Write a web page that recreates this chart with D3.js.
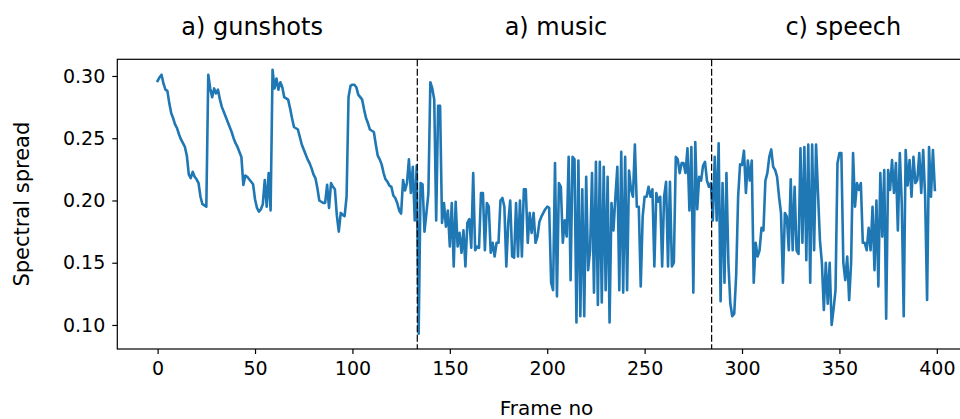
<!DOCTYPE html>
<html><head><meta charset="utf-8">
<script src="https://cdn.jsdelivr.net/npm/d3@7"></script>
<style>
html,body{margin:0;padding:0;background:#fff;}
svg{display:block;}
text{font-family:"DejaVu Sans",sans-serif;fill:#000;}
</style></head>
<body>
<svg id="chart" width="960" height="419"></svg>
<script>
const gunshots = [0.296,0.299,0.301,0.294,0.289,0.288,0.278,0.270,0.266,0.261,0.258,0.253,0.249,0.246,0.243,0.236,0.221,0.218,0.223,0.219,
0.217,0.214,0.203,0.197,0.196,0.195,0.301,0.290,0.283,0.290,0.286,0.289,0.281,0.275,0.271,0.267,0.263,0.259,0.255,0.250,
0.246,0.243,0.239,0.235,0.2125,0.220,0.219,0.217,0.215,0.213,0.201,0.194,0.191,0.193,0.197,0.2165,0.195,0.222,0.192,0.305,
0.290,0.298,0.289,0.295,0.291,0.283,0.282,0.281,0.274,0.266,0.259,0.258,0.257,0.251,0.245,0.241,0.237,0.233,0.230,0.226,
0.221,0.218,0.210,0.200,0.199,0.198,0.198,0.2125,0.194,0.214,0.211,0.209,0.188,0.175,0.190,0.1885,0.1875,0.203,0.283,0.292,
0.293,0.293,0.291,0.285,0.283,0.281,0.273,0.266,0.262,0.257,0.256,0.255,0.245,0.236,0.233,0.229,0.222,0.217,0.215,0.212,
0.211,0.204,0.202,0.198,0.192,0.1895,0.2165,0.208,0.214,0.233,0.206,0.227,0.184];
const music = [0.228,0.093,0.214,0.213,0.175,0.190,0.206,0.295,0.290,0.281,0.184,0.276,0.276,0.182,0.198,0.179,0.192,0.163,0.198,0.147,
0.199,0.163,0.174,0.158,0.176,0.147,0.182,0.185,0.162,0.222,0.160,0.163,0.162,0.206,0.206,0.160,0.198,0.195,0.158,0.166,
0.155,0.166,0.166,0.200,0.202,0.195,0.147,0.182,0.200,0.155,0.154,0.198,0.155,0.200,0.155,0.209,0.209,0.166,0.190,0.174,
0.190,0.166,0.171,0.183,0.187,0.190,0.193,0.195,0.194,0.134,0.128,0.230,0.123,0.214,0.211,0.166,0.184,0.171,0.235,0.136,
0.235,0.233,0.102,0.232,0.107,0.209,0.107,0.219,0.144,0.160,0.222,0.126,0.231,0.116,0.231,0.118,0.227,0.128,0.219,0.102,
0.198,0.176,0.203,0.227,0.128,0.239,0.126,0.235,0.128,0.224,0.209,0.203,0.245,0.195,0.195,0.131,0.187,0.203,0.203,0.211,
0.203,0.209,0.147,0.206,0.199,0.203,0.147,0.203,0.215,0.147,0.215,0.147,0.150,0.235,0.233,0.222,0.230,0.230,0.222,0.242,
0.192,0.243,0.126,0.247,0.193,0.219,0.216,0.228,0.231,0.216,0.211];
const speech = [0.214,0.184,0.235,0.184,0.246,0.119,0.214,0.134,0.222,0.150,0.117,0.107,0.109,0.140,0.203,0.229,0.2285,0.240,0.206,0.232,
0.216,0.232,0.134,0.166,0.155,0.160,0.178,0.176,0.216,0.222,0.235,0.241,0.227,0.2245,0.219,0.203,0.190,0.134,0.190,0.187,
0.160,0.217,0.160,0.211,0.160,0.157,0.242,0.166,0.243,0.152,0.245,0.134,0.245,0.160,0.245,0.206,0.168,0.150,0.112,0.150,
0.117,0.150,0.100,0.113,0.128,0.230,0.238,0.238,0.150,0.136,0.155,0.120,0.150,0.238,0.195,0.214,0.2085,0.214,0.166,0.166,
0.160,0.178,0.160,0.195,0.144,0.200,0.131,0.222,0.171,0.2245,0.105,0.2245,0.2085,0.2325,0.206,0.230,0.176,0.238,0.198,0.107,
0.2406,0.212,0.2325,0.203,0.235,0.214,0.2165,0.238,0.206,0.2406,0.203,0.120,0.243,0.203,0.2406,0.2085];
const segmentBoundaries = [133.3, 284.4];
const segmentTitles = ["a) gunshots", "a) music", "c) speech"];
const titleCenters = [48.5, 204.5, 352];
const xTicks = [0, 50, 100, 150, 200, 250, 300, 350, 400];
const yTicks = [0.10, 0.15, 0.20, 0.25, 0.30];
const xLabel = "Frame no";
const yLabel = "Spectral spread";

(function draw() {
const values = gunshots.concat(music, speech);
const data = values.map((v, i) => ({frame: i, value: v}));

const svg = d3.select("#chart");
const mLeft = 117.3, mTop = 59.3, mBottom = 349;
const pxPerFrame = 1.948;
const x = d3.scaleLinear().domain([-20.7, 420]).range([mLeft, mLeft + 440.7 * pxPerFrame]);
const y = d3.scaleLinear().domain([0.0807, 0.3134]).range([mBottom, mTop]);
const mRight = x.range()[1];

const line = d3.line().x(d => x(d.frame)).y(d => y(d.value));
svg.append("path").datum(data)
  .attr("fill", "none").attr("stroke", "#1f77b4").attr("stroke-width", 2.6)
  .attr("stroke-linejoin", "round").attr("stroke-linecap", "square")
  .attr("d", line);

svg.selectAll("line.bound").data(segmentBoundaries).enter().append("line")
  .attr("class", "bound")
  .attr("x1", d => x(d)).attr("x2", d => x(d))
  .attr("y1", mTop).attr("y2", mBottom)
  .attr("stroke", "#000").attr("stroke-width", 1.2).attr("stroke-dasharray", "7,2.5");

svg.append("rect").attr("x", mLeft).attr("y", mTop).attr("width", mRight - mLeft).attr("height", mBottom - mTop)
  .attr("fill", "none").attr("stroke", "#000").attr("stroke-width", 1.2);

const xAxis = d3.axisBottom(x).tickValues(xTicks).tickSize(5).tickPadding(8).tickFormat(d3.format("d"));
const gx = svg.append("g").attr("transform", `translate(0,${mBottom})`).call(xAxis);
const yAxis = d3.axisLeft(y).tickValues(yTicks).tickSize(5).tickPadding(7).tickFormat(d3.format(".2f"));
const gy = svg.append("g").attr("transform", `translate(${mLeft},0)`).call(yAxis);
[gx, gy].forEach(g => {
  g.select(".domain").remove();
  g.selectAll(".tick line").attr("stroke", "#000").attr("stroke-width", 1.2);
  g.selectAll(".tick text").attr("font-size", 19).attr("font-family", "DejaVu Sans, sans-serif").attr("fill", "#000");
});

svg.append("text").attr("x", (mLeft + mRight) / 2).attr("y", 415).attr("text-anchor", "middle")
  .attr("font-size", 20).text(xLabel);
svg.append("text").attr("transform", `translate(29,${(mTop + mBottom) / 2}) rotate(-90)`).attr("text-anchor", "middle")
  .attr("font-size", 21).text(yLabel);

svg.selectAll("text.seg").data(segmentTitles).enter().append("text")
  .attr("class", "seg")
  .attr("x", (d, i) => x(titleCenters[i])).attr("y", 35).attr("text-anchor", "middle")
  .attr("font-size", 24).text(d => d);
})();
</script>
</body></html>
